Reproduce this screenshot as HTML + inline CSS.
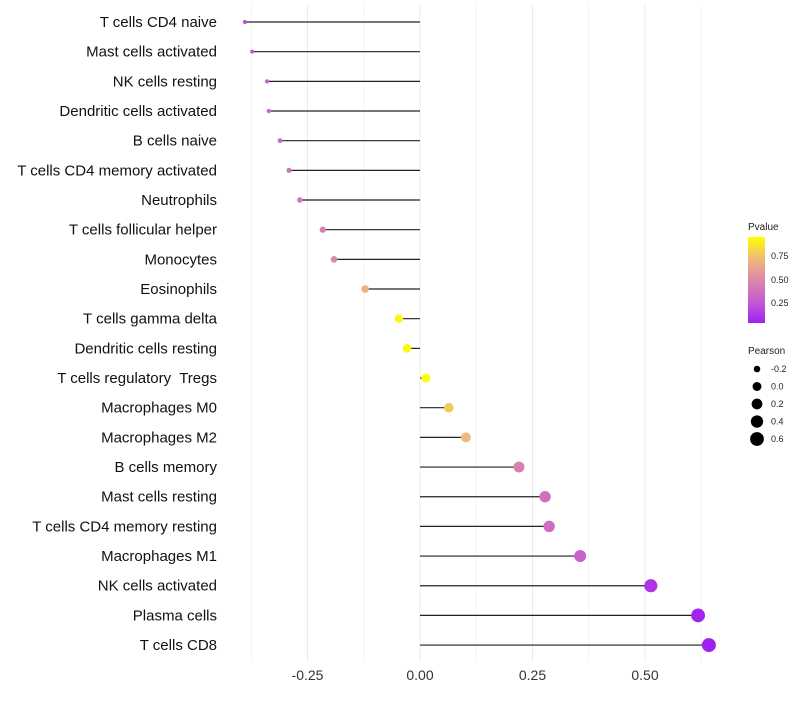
<!DOCTYPE html>
<html><head><meta charset="utf-8"><style>
body{margin:0;background:#fff;font-family:"Liberation Sans",sans-serif}
text{white-space:pre}
</style></head><body>
<svg id="chart" width="800" height="700" xmlns="http://www.w3.org/2000/svg">
<defs><linearGradient id="pg" x1="0" y1="1" x2="0" y2="0">
<stop offset="0" stop-color="#a020f0"/><stop offset="0.25" stop-color="#c45cd2"/><stop offset="0.5" stop-color="#db88a8"/><stop offset="0.75" stop-color="#efba78"/><stop offset="1" stop-color="#ffff00"/>
</linearGradient></defs>
<g id="grid"></g><g id="marks"></g><g id="labels"></g>
<g font-size="9" fill="#222">
<text x="748" y="230" font-size="10">Pvalue</text>
<rect x="748" y="237" width="17" height="86" fill="url(#pg)"/>
<text x="771" y="259">0.75</text>
<text x="771" y="283">0.50</text>
<text x="771" y="306">0.25</text>
<text x="748" y="354" font-size="10">Pearson</text>
<g id="sizeleg"></g>
</g>
</svg>
<script>
const categories=["T cells CD4 naive","Mast cells activated","NK cells resting","Dendritic cells activated","B cells naive","T cells CD4 memory activated","Neutrophils","T cells follicular helper","Monocytes","Eosinophils","T cells gamma delta","Dendritic cells resting","T cells regulatory  Tregs","Macrophages M0","Macrophages M2","B cells memory","Mast cells resting","T cells CD4 memory resting","Macrophages M1","NK cells activated","Plasma cells","T cells CD8"];
const pearson=[-0.389,-0.373,-0.34,-0.336,-0.311,-0.291,-0.267,-0.216,-0.191,-0.122,-0.047,-0.029,0.013,0.064,0.102,0.22,0.278,0.287,0.356,0.513,0.618,0.642];
const pvalues=[0.2,0.25,0.3,0.32,0.33,0.38,0.42,0.45,0.5,0.7,0.92,0.93,0.95,0.78,0.72,0.45,0.38,0.36,0.3,0.12,0.06,0.04];
const xTicks=[-0.25,0,0.25,0.5];
const xTickLabels=["-0.25","0.00","0.25","0.50"];
const sizeLegend=[-0.2,0,0.2,0.4,0.6];
const NS="http://www.w3.org/2000/svg";
const x=v=>420+v*450;
const y=i=>22+i*29.67;
const r=v=>Math.sqrt(Math.max(4,19.9+45.4*v));
function hex(h){return [1,3,5].map(k=>parseInt(h.substr(k,2),16));}
const stops=[[0,hex("#a020f0")],[0.25,hex("#c45cd2")],[0.5,hex("#db88a8")],[0.75,hex("#efba78")],[1,hex("#ffff00")]];
function col(p){const t=Math.min(1,Math.max(0,(p-0.04)/0.91));let k=Math.min(3,Math.floor(t*4));const a=stops[k],b=stops[k+1];const u=(t-a[0])/(b[0]-a[0]);return "rgb("+a[1].map((c,j)=>Math.round(c+(b[1][j]-c)*u)).join(",")+")";}
function mk(tag,at,parent){const e=document.createElementNS(NS,tag);for(const k in at)e.setAttribute(k,at[k]);document.getElementById(parent).appendChild(e);return e;}
const grid=[-0.375,-0.25,-0.125,0,0.125,0.25,0.375,0.5,0.625];
grid.forEach(g=>{const l=mk("line",{x1:x(g),x2:x(g),y1:5,y2:662,stroke:"#ebebeb","stroke-width":Number.isInteger(g*4)?1:0.6},"grid");

});
xTicks.forEach((t,i)=>{const e=mk("text",{x:x(t),y:680,"text-anchor":"middle","font-size":"14",fill:"#333"},"labels");e.textContent=xTickLabels[i];

});
categories.forEach((c,i)=>{
const t=mk("text",{x:217,y:y(i)+5,"text-anchor":"end","font-size":"15",fill:"#111"},"labels");t.textContent=c;


const l=mk("line",{x1:x(0),x2:x(pearson[i]),y1:y(i),y2:y(i),stroke:"#222","stroke-width":1.2},"marks");


const d=mk("circle",{cx:x(pearson[i]),cy:y(i),r:r(pearson[i]),fill:col(pvalues[i])},"marks");


});
sizeLegend.forEach((v,i)=>{const cy=369+i*17.5;
const c=mk("circle",{cx:757,cy:cy,r:r(v),fill:"#000"},"sizeleg");


const t=mk("text",{x:771,y:cy+3,"font-size":"9",fill:"#222"},"sizeleg");t.textContent=v.toFixed(1);

});
</script>
</body></html>
